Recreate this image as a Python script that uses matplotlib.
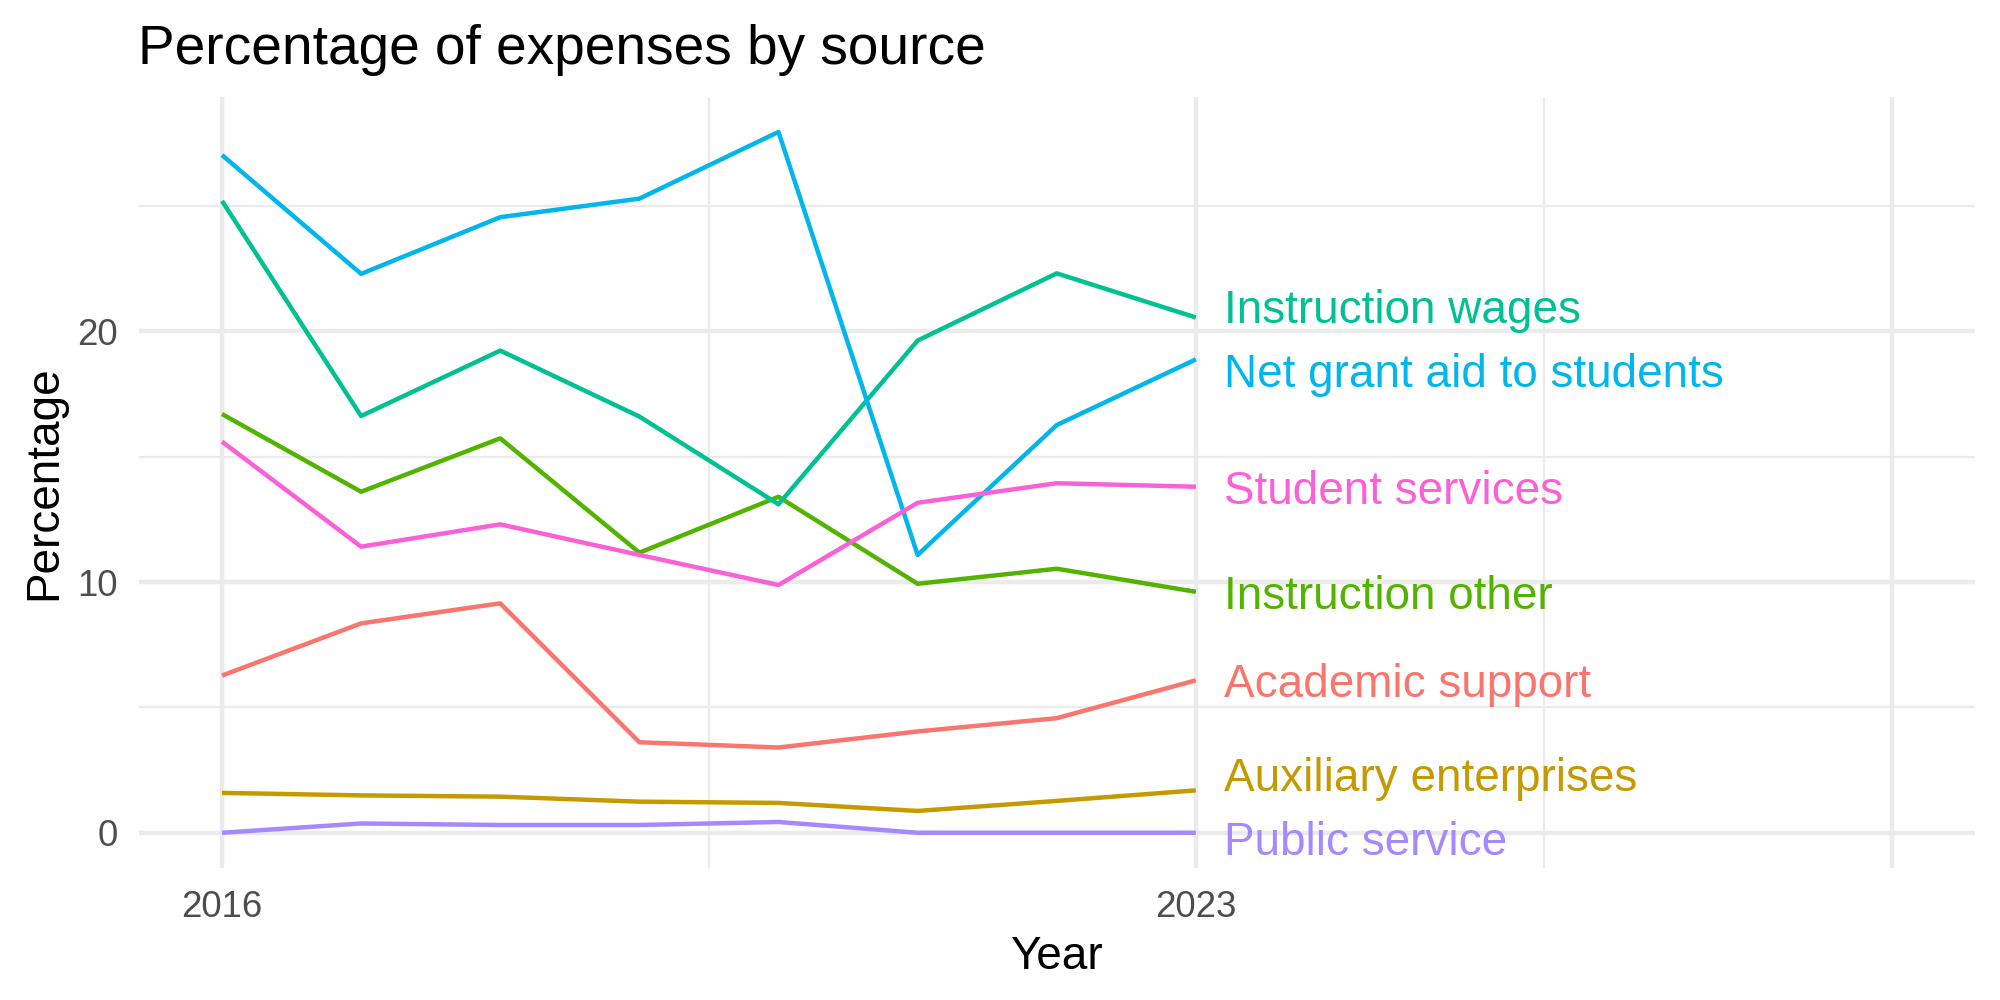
import matplotlib
matplotlib.use("Agg")
import matplotlib.pyplot as plt
import numpy as np

# ---------------- data ----------------
years = [2016, 2017, 2018, 2019, 2020, 2021, 2022, 2023]
series_names = [
    "Academic support",
    "Auxiliary enterprises",
    "Instruction other",
    "Instruction wages",
    "Net grant aid to students",
    "Public service",
    "Student services",
]
academic_support = [6.27, 8.35, 9.15, 3.61, 3.40, 4.04, 4.57, 6.08]
auxiliary_enterprises = [1.59, 1.49, 1.44, 1.24, 1.19, 0.87, 1.27, 1.69]
instruction_other = [16.70, 13.60, 15.73, 11.17, 13.40, 9.93, 10.53, 9.61]
instruction_wages = [25.20, 16.62, 19.23, 16.60, 13.10, 19.63, 22.31, 20.55]
net_grant_aid = [27.03, 22.29, 24.55, 25.29, 27.95, 11.08, 16.26, 18.88]
public_service = [0.00, 0.37, 0.31, 0.31, 0.43, 0.00, 0.00, 0.00]
student_services = [15.60, 11.41, 12.30, 11.08, 9.88, 13.16, 13.94, 13.80]

x_breaks = [2016, 2023, 2028]
x_labels = ["2016", "2023", ""]
y_breaks = [0, 10, 20]
title = "Percentage of expenses by source"
x_title = "Year"
y_title = "Percentage"

values = [academic_support, auxiliary_enterprises, instruction_other,
          instruction_wages, net_grant_aid, public_service, student_services]
colors = ["#F8766D", "#C49A00", "#53B400", "#00C094", "#00B6EB", "#A58AFF", "#FB61D7"]

# ---------------- style ----------------
plt.rcParams["font.family"] = ["Liberation Sans", "DejaVu Sans"]
LW = 1.07          # ggplot linewidth 0.5
GRID = "#EBEBEB"

fig = plt.figure(figsize=(20 / 3, 10 / 3), dpi=300)
ax = fig.add_axes([138.5 / 2000, 1 - 867.8 / 1000,
                   (1975 - 138.5) / 2000, (867.8 - 96.9) / 1000])

for vals, col in zip(values, colors):
    ax.plot(years, vals, color=col, lw=LW, solid_capstyle="butt",
            solid_joinstyle="round", zorder=3)

# limits with ggplot-like 5% expansion
xmin, xmax = min(x_breaks), max(x_breaks)
xr = xmax - xmin
ax.set_xlim(xmin - 0.05 * xr, xmax + 0.05 * xr)
allv = np.concatenate([np.asarray(v) for v in values])
ymin, ymax = allv.min(), allv.max()
yr = ymax - ymin
ax.set_ylim(ymin - 0.05 * yr, ymax + 0.05 * yr)

# grid
ax.set_xticks(x_breaks)
ax.set_xticklabels(x_labels)
ax.set_xticks([(a + b) / 2 for a, b in zip(x_breaks[:-1], x_breaks[1:])], minor=True)
ax.set_yticks(y_breaks)
ax.set_yticks([5, 15, 25], minor=True)
ax.grid(which="major", color=GRID, lw=LW, zorder=0)
ax.grid(which="minor", color=GRID, lw=LW / 2, zorder=0)
ax.set_axisbelow(True)
for s in ax.spines.values():
    s.set_visible(False)
ax.tick_params(which="both", length=0)
ax.tick_params(axis="x", which="major", pad=5.3, labelsize=8.8, labelcolor="#4D4D4D")
ax.tick_params(axis="y", which="major", pad=5.0, labelsize=8.8, labelcolor="#4D4D4D")

ax.set_xlabel(x_title, fontsize=11, color="black", labelpad=2.4)
ax.set_ylabel(y_title, fontsize=11, color="black", labelpad=2.5)

fig.text(138.5 / 2000, 0.936, title, fontsize=13.2, color="black",
         ha="left", va="baseline")

# ---------------- direct labels with simple vertical repel ----------------
GAP = 2.55        # minimum vertical separation between label centres (data units)
HALF = 1.2        # half label height (data units), keeps labels inside the panel
lo, hi = ax.get_ylim()
ends = np.array([v[-1] for v in values], dtype=float)
order = np.argsort(ends)
pos = ends[order].copy()
for _ in range(500):
    moved = False
    for i in range(len(pos) - 1):
        d = pos[i + 1] - pos[i]
        if d < GAP - 1e-9:
            shift = (GAP - d) / 2
            pos[i] -= shift
            pos[i + 1] += shift
            moved = True
    pos = np.clip(pos, lo + HALF, hi - HALF)
    if not moved:
        break
label_y = np.empty_like(pos)
label_y[order] = pos

for name, col, ly in zip(series_names, colors, label_y):
    ax.text(years[-1] + 0.2, ly, name, color=col, fontsize=11,
            ha="left", va="center_baseline", zorder=4)

fig.savefig("out.png", dpi=300, facecolor="white")
